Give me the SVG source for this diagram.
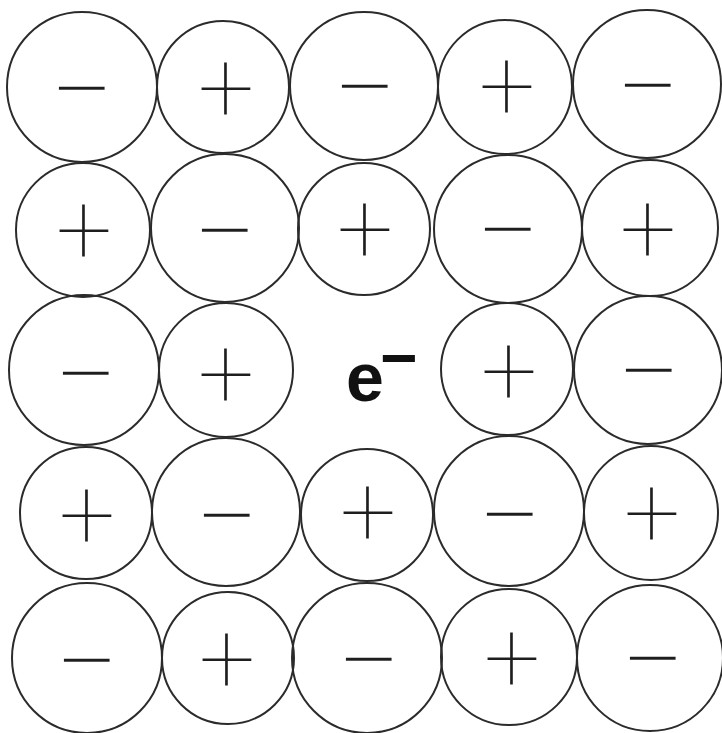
<svg xmlns="http://www.w3.org/2000/svg" width="722" height="733" viewBox="0 0 722 733">
<style>
.c{fill:none;stroke:#2b2b2b;stroke-width:2}
.s{font-family:Roboto,"Liberation Sans",sans-serif;font-weight:100;text-anchor:middle;dominant-baseline:central;fill:#1e1e1e}
.p{font-size:100px}
.m{font-size:112px}
.e{font-family:"Liberation Sans",Arial,sans-serif;font-weight:bold;fill:#111}
</style>
<rect width="722" height="733" fill="#ffffff"/>
<g id="connectors"/>
<g id="n11"><circle class="c" cx="82" cy="87" r="75"/><text class="s m" x="82" y="90">−</text></g>
<g id="n12"><circle class="c" cx="223" cy="87" r="66"/><text class="s p" x="226" y="87">+</text></g>
<g id="n13"><circle class="c" cx="364" cy="86" r="74"/><text class="s m" x="365" y="88">−</text></g>
<g id="n14"><circle class="c" cx="505" cy="87" r="67"/><text class="s p" x="507" y="85">+</text></g>
<g id="n15"><circle class="c" cx="647" cy="84" r="74"/><text class="s m" x="648" y="87">−</text></g>
<g id="n21"><circle class="c" cx="83" cy="230" r="67"/><text class="s p" x="84" y="229">+</text></g>
<g id="n22"><circle class="c" cx="225" cy="228" r="74"/><text class="s m" x="225" y="232">−</text></g>
<g id="n23"><circle class="c" cx="364" cy="229" r="66"/><text class="s p" x="365" y="228">+</text></g>
<g id="n24"><circle class="c" cx="508" cy="229" r="74"/><text class="s m" x="508" y="231">−</text></g>
<g id="n25"><circle class="c" cx="650" cy="228" r="68"/><text class="s p" x="648" y="228">+</text></g>
<g id="n31"><circle class="c" cx="84" cy="370" r="75"/><text class="s m" x="86" y="375">−</text></g>
<g id="n32"><circle class="c" cx="226" cy="370" r="67"/><text class="s p" x="226" y="373">+</text></g>
<g id="electron"><text class="e"><tspan x="346" y="401" font-size="68">e</tspan><tspan x="380" y="380" font-size="64">−</tspan></text></g>
<g id="n34"><circle class="c" cx="507" cy="369" r="66"/><text class="s p" x="509" y="370">+</text></g>
<g id="n35"><circle class="c" cx="648" cy="370" r="74"/><text class="s m" x="649" y="372">−</text></g>
<g id="n41"><circle class="c" cx="86" cy="513" r="66"/><text class="s p" x="87" y="514">+</text></g>
<g id="n42"><circle class="c" cx="226" cy="512" r="74"/><text class="s m" x="227" y="517">−</text></g>
<g id="n43"><circle class="c" cx="367" cy="515" r="66"/><text class="s p" x="368" y="511">+</text></g>
<g id="n44"><circle class="c" cx="509" cy="511" r="75"/><text class="s m" x="510" y="516">−</text></g>
<g id="n45"><circle class="c" cx="651" cy="513" r="67"/><text class="s p" x="652" y="512">+</text></g>
<g id="n51"><circle class="c" cx="87" cy="658" r="75"/><text class="s m" x="87" y="662">−</text></g>
<g id="n52"><circle class="c" cx="228" cy="658" r="66"/><text class="s p" x="227" y="658">+</text></g>
<g id="n53"><circle class="c" cx="367" cy="658" r="75"/><text class="s m" x="369" y="661">−</text></g>
<g id="n54"><circle class="c" cx="509" cy="657" r="68"/><text class="s p" x="512" y="657">+</text></g>
<g id="n55"><circle class="c" cx="650" cy="658" r="73"/><text class="s m" x="653" y="660">−</text></g>
</svg>
